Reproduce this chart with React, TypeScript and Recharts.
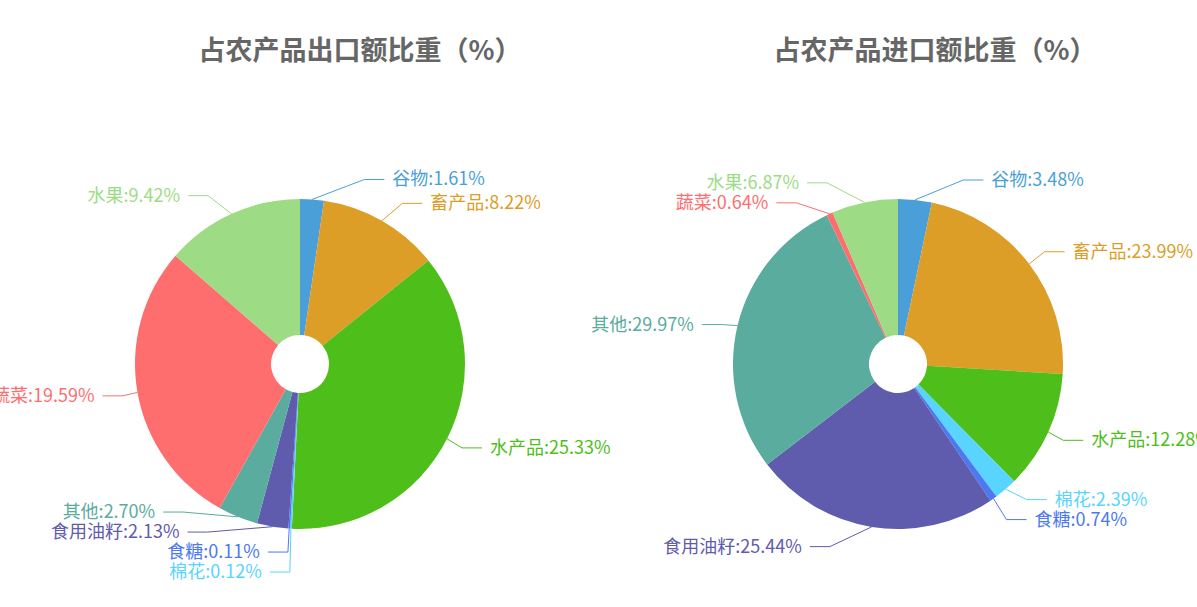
import { Cell, Pie, PieChart } from 'recharts'

const categories = ['谷物', '畜产品', '水产品', '棉花', '食糖', '食用油籽', '其他', '蔬菜', '水果']
const exportShare = [1.61, 8.22, 25.33, 0.12, 0.11, 2.13, 2.7, 19.59, 9.42]
const importShare = [3.48, 23.99, 12.28, 2.39, 0.74, 25.44, 29.97, 0.64, 6.87]
const colors = ['#4a9fd8', '#dc9e26', '#4ebe1a', '#59d4ff', '#4c79f0', '#5f5bad', '#5aac9e', '#ff6e6e', '#9ddc84']

const W = 1197
const H = 607
const R = 165
const R0 = 29
const CY = 364
const LEN = 20
const LEN2 = 20
const DIST = 5
const TEXT_PAD = 3
const LABEL_H = 20

type Item = {
  index: number
  x: number
  y: number
  dir: number
  pts: number[][]
}

// echarts-like outside label placement (shift on y, then align x on the curve)
function layoutLabels(values: number[], cx: number, cy: number, r: number) {
  const total = values.reduce((a, b) => a + b, 0)
  let cum = 0
  const items: Item[] = values.map((v, i) => {
    const mid = 90 - (360 * (cum + v / 2)) / total
    cum += v
    const rad = (mid * Math.PI) / 180
    const dx = Math.cos(rad)
    const dy = -Math.sin(rad)
    const x1 = cx + r * dx
    const y1 = cy + r * dy
    const x2 = x1 + dx * LEN
    const y2 = y1 + dy * LEN
    const dir = dx < 0 ? -1 : 1
    const x3 = x2 + dir * LEN2
    return { index: i, x: x3 + dir * DIST, y: y2, dir, pts: [[x1, y1], [x2, y2], [x3, y2]] }
  })

  const adjustSide = (list: Item[], dir: number) => {
    list.sort((a, b) => a.y - b.y)
    const n = list.length
    const shiftUp = (end: number, delta: number) => {
      for (let j = end; j >= 0; j--) {
        if (list[j].y - delta < 0) break
        list[j].y -= delta
        if (j > 0 && list[j].y > list[j - 1].y + LABEL_H) break
      }
    }
    const shiftDown = (start: number, end: number, delta: number) => {
      for (let j = start; j < end; j++) {
        if (list[j].y + delta > H) break
        list[j].y += delta
        if (j > start && j + 1 < end && list[j + 1].y > list[j].y + LABEL_H) {
          shiftUp(j, delta / 2)
          return
        }
      }
      shiftUp(end - 1, delta / 2)
    }
    let lastY = 0
    for (let i = 0; i < n; i++) {
      const delta = list[i].y - lastY
      if (delta < 0) shiftDown(i, n, -delta)
      lastY = list[i].y + LABEL_H
    }
    if (H - lastY < 0) shiftUp(n - 1, lastY - H)

    const changeX = (part: Item[], down: boolean) => {
      let last = down ? Number.MAX_VALUE : 0
      for (const it of part) {
        const ddy = Math.abs(it.y - cy)
        let ddx = ddy < r + LEN ? Math.sqrt((r + LEN + LEN2) ** 2 - ddy * ddy) : Math.abs(it.x - cx)
        if (down && ddx >= last) ddx = last - 10
        if (!down && ddx <= last) ddx = last + 10
        it.x = cx + ddx * dir
        last = ddx
      }
    }
    changeX(list.filter((it) => it.y < cy), false)
    changeX(list.filter((it) => it.y >= cy), true)
  }

  adjustSide(items.filter((it) => it.x >= cx), 1)
  adjustSide(items.filter((it) => it.x < cx), -1)

  items.forEach((it) => {
    const dist = it.pts[1][0] - it.pts[2][0]
    it.pts[2][0] = it.x - it.dir * DIST
    it.pts[1][0] = it.pts[2][0] + dist
    it.pts[1][1] = it.y
    it.pts[2][1] = it.y
  })
  return items
}

function makeLabel(layout: Item[]) {
  return (p: any) => {
    const it = layout[p.index]
    const color = colors[p.index]
    return (
      <g key={`lbl-${p.index}`}>
        <polyline
          points={it.pts.map((pt) => pt.join(',')).join(' ')}
          fill="none"
          stroke={color}
          strokeWidth={1}
        />
        <text
          x={it.x + it.dir * TEXT_PAD}
          y={it.y - 2}
          textAnchor={it.dir > 0 ? 'start' : 'end'}
          dominantBaseline="central"
          fill={color}
          fontSize={18}
        >
          {`${categories[p.index]}:${Number(p.value).toFixed(2)}%`}
        </text>
      </g>
    )
  }
}

const exportData = categories.map((name, i) => ({ name, value: exportShare[i] }))
const importData = categories.map((name, i) => ({ name, value: importShare[i] }))

const pies = [
  { title: '占农产品出口额比重（%）', data: exportData, values: exportShare, cx: 300, titleX: 360 },
  { title: '占农产品进口额比重（%）', data: importData, values: importShare, cx: 898, titleX: 935 },
]

export default function App() {
  return (
    <div
      style={{
        position: 'fixed',
        left: 0,
        top: 0,
        width: W,
        height: H,
        background: '#fff',
        fontFamily: '"Noto Sans CJK SC", "Noto Sans", sans-serif',
      }}
    >
      {pies.map((p) => (
        <div
          key={p.title}
          style={{
            position: 'absolute',
            left: p.titleX,
            top: 30,
            transform: 'translateX(-50%)',
            whiteSpace: 'nowrap',
            fontSize: 27,
            fontWeight: 'bold',
            color: '#666',
            lineHeight: '38px',
          }}
        >
          {p.title}
        </div>
      ))}
      <PieChart
        width={W}
        height={H}
        margin={{ top: 0, right: 0, bottom: 0, left: 0 }}
        style={{ position: 'absolute', left: 0, top: 0 }}
      >
        {pies.map((p) => (
          <Pie
            key={p.title}
            data={p.data}
            dataKey="value"
            nameKey="name"
            cx={p.cx}
            cy={CY}
            innerRadius={R0}
            outerRadius={R}
            startAngle={90}
            endAngle={-270}
            stroke="none"
            labelLine={false}
            label={makeLabel(layoutLabels(p.values, p.cx, CY, R))}
            isAnimationActive={false}
          >
            {p.data.map((d, i) => (
              <Cell key={d.name} fill={colors[i]} />
            ))}
          </Pie>
        ))}
      </PieChart>
    </div>
  )
}
